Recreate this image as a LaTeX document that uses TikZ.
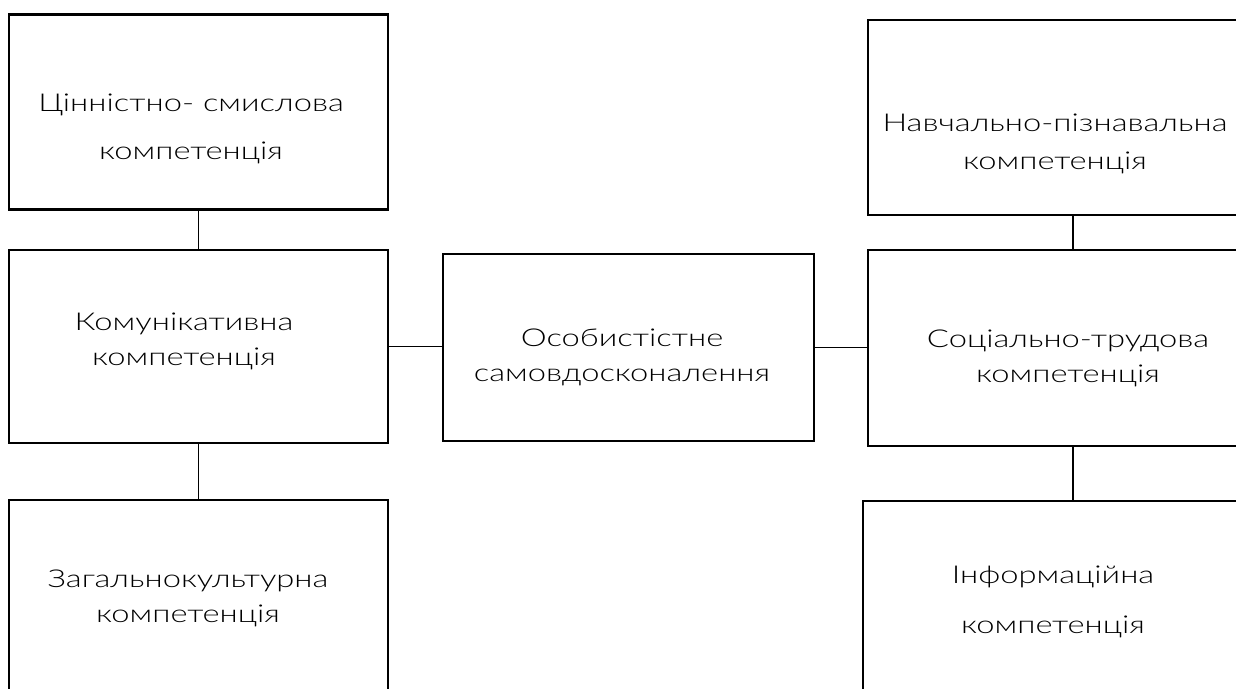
\documentclass[tikz,border=0pt]{standalone}
\usepackage{fontspec}
\setmainfont{Lato Light}[FakeStretch=1.33]
\tikzset{
  box/.style={draw, line width=2pt, inner sep=0pt},
  conn/.style={line width=1.3pt},
  txt/.style={align=center, inner sep=0pt, font=\fontsize{17.5}{25}\selectfont}
}
\begin{document}
\begin{tikzpicture}[x=0.025cm, y=-0.025cm]
\useasboundingbox (0,0) rectangle (1236,689);
\clip (0,0) rectangle (1236,689);

% left column
\node[box, minimum width=9.475cm, minimum height=4.875cm] (val) at (198.5,112) {};
\node[box, minimum width=9.475cm, minimum height=4.825cm] (comm) at (198.5,346.5) {};
\node[box, minimum width=9.475cm, minimum height=4.875cm] (cult) at (198.5,597.5) {};

% centre
\node[box, minimum width=9.275cm, minimum height=4.675cm] (self) at (628.5,347.5) {};

% right column
\node[box, minimum width=10.25cm, minimum height=4.875cm] (learn) at (1073,117.5) {};
\node[box, minimum width=10.25cm, minimum height=4.9cm] (soc) at (1073,348) {};
\node[box, minimum width=10.5cm, minimum height=5.2cm] (info) at (1073,605) {};

% labels
\node[txt] (valtext) at (191,129) {Цінністно- смислова\\[9pt]компетенція};
\node[txt] (commtext) at (184,341) {Комунікативна\\компетенція};
\node[txt] (culttext) at (188,598) {Загальнокультурна\\компетенція};
\node[txt] (selftext) at (622,357) {Особистістне\\самовдосконалення};
\node[txt] (learntext) at (1055,143.5) {Навчально-пізнавальна\\[2pt]компетенція};
\node[txt] (soctext) at (1068,358) {Соціально-трудова\\компетенція};
\node[txt] (infotext) at (1053,602) {Інформаційна\\[10pt]компетенція};

% connectors
\draw[conn] (val.south) -- (comm.north);
\draw[conn] (comm.south) -- (cult.north);
\draw[conn] (comm.east) -- (comm.east -| self.west);
\draw[conn] (self.east) -- (self.east -| soc.west);
\draw[conn] (learn.south) -- (soc.north);
\draw[conn] (soc.south) -- (info.north);

\end{tikzpicture}
\end{document}
